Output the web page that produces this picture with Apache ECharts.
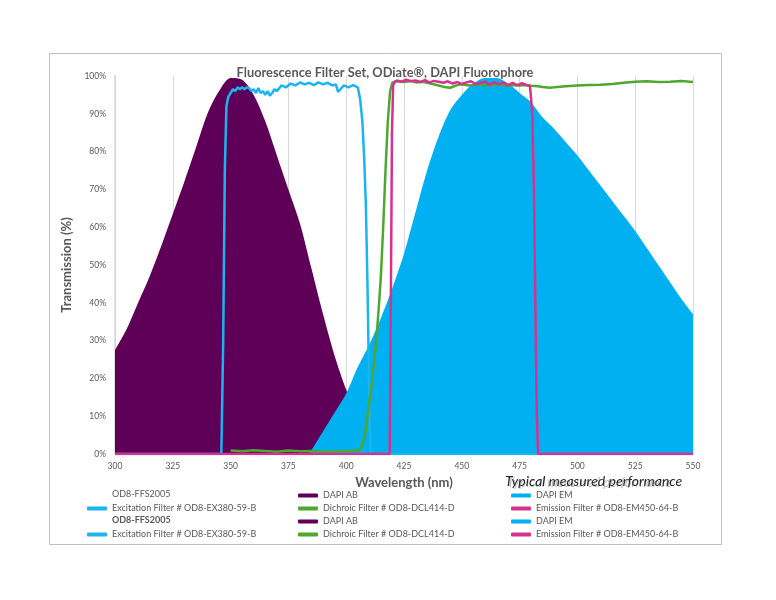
<!DOCTYPE html>
<html>
<head>
<meta charset="utf-8">
<title>DAPI filter set</title>
<script src="https://cdn.jsdelivr.net/npm/echarts@6/dist/echarts.min.js"></script>
<style>
body { margin: 0; background: #fff; }
#myChart { width: 776px; height: 600px; }
</style>
</head>
<body>
<div id="myChart"></div>
<script>
// DAPI AB (absorption)
var wlAb = [300, 305, 310, 315, 320, 325, 330, 335, 340, 345, 350, 355, 360, 365, 370, 375, 380, 385, 390, 395, 400, 405, 410, 415, 420]
var tAb = [27.5, 33, 40, 47, 55, 63.5, 72, 81, 90, 96, 99.5, 99, 95, 88, 79, 70, 61, 49, 37, 26, 17, 10, 5, 1.5, 0]

// DAPI EM (emission)
var wlEm = [384, 390, 395, 400, 405, 410, 415, 420, 425, 430, 435, 440, 445, 450, 455, 460, 465, 470, 475, 480, 485, 490, 495, 500, 505, 510, 515, 520, 525, 530, 535, 540, 545, 550]
var tEm = [0, 6, 11, 16, 23, 29, 36, 44, 53, 64, 75, 84, 91, 95, 98, 99.5, 99.5, 98, 95.5, 93, 89, 86, 82.5, 79, 75, 71, 67, 63, 59, 54.5, 50, 45.5, 41, 37]

// Excitation Filter # OD8-EX380-59-B
var wlEx = [300, 346, 346.8, 347.5, 348.2, 349, 350, 351, 352, 353, 354, 355, 356, 357, 358, 359, 360, 361, 362, 363, 364, 365, 366, 367, 368, 369, 370, 372, 374, 376, 378, 380, 382, 384, 386, 388, 390, 392, 394, 395.5, 396.5, 397.5, 399, 401, 403, 405, 406, 407, 407.8, 408.5, 409.2, 409.8, 410.2, 410.6, 550]
var tEx = [0, 0, 30, 75, 92, 94.5, 95.5, 96.5, 96, 97, 96.5, 97, 96.5, 97, 96.8, 96, 96.5, 95.5, 96.8, 95.5, 96, 95, 96, 94.8, 95.5, 96.5, 96, 97.5, 97, 98, 97.5, 98.3, 97.8, 98.2, 97.6, 98.3, 97.8, 98.2, 97.5, 97.8, 95.8, 96.5, 97.5, 97, 97.6, 97, 94, 88, 78, 66, 45, 22, 8, 0, 0]

// Dichroic Filter # OD8-DCL414-D
var wlDc = [350, 355, 360, 365, 370, 375, 380, 385, 390, 395, 400, 405, 406, 407, 408, 409, 410, 411, 412, 413, 414, 415, 416, 417, 418, 419, 420, 422, 425, 428, 430, 433, 436, 440, 443, 445, 448, 450, 453, 455, 458, 460, 463, 465, 468, 470, 473, 475, 478, 480, 483, 485, 488, 490, 495, 500, 505, 510, 515, 520, 525, 530, 535, 540, 545, 550]
var tDc = [0.9, 0.7, 1.0, 0.8, 0.6, 0.9, 0.7, 0.8, 0.6, 0.7, 0.8, 0.9, 1.2, 2.5, 5, 9, 14, 18, 24, 30, 38, 47, 60, 75, 88, 96, 98.3, 98.6, 98.4, 98.7, 98.3, 98.5, 98.1, 97.5, 97, 96.9, 97.6, 97.8, 97.5, 97.6, 97.8, 97.5, 97.6, 97.8, 97.6, 97.4, 97.6, 97.5, 97.6, 97.4, 97.3, 97.1, 96.9, 97, 97.3, 97.5, 97.6, 97.7, 97.9, 98.2, 98.5, 98.6, 98.4, 98.5, 98.7, 98.4]

// Emission Filter # OD8-EM450-64-B
var wlEmf = [300, 418.8, 419.3, 419.8, 420.3, 421, 422, 424, 426, 428, 430, 432, 434, 436, 438, 440, 442, 444, 446, 448, 450, 452, 454, 456, 458, 460, 462, 464, 466, 468, 470, 472, 474, 476, 478, 479.5, 480.5, 481.2, 481.8, 482.4, 483, 550]
var tEmf = [0, 0, 40, 85, 97.5, 98.5, 98.8, 98.5, 99, 98.6, 98.8, 98.4, 98.9, 98.3, 98.7, 98.5, 98.2, 98.6, 98.0, 98.4, 97.9, 98.3, 98.6, 97.8, 98.2, 98.5, 97.7, 98.4, 97.8, 98.3, 97.6, 98.2, 97.5, 98.1, 97.6, 97.3, 90, 70, 40, 12, 0, 0]

var xTicks = [300, 325, 350, 375, 400, 425, 450, 475, 500, 525, 550]

function pairs(xs, ys) {
    return xs.map(function (x, i) { return [x, ys[i]] })
}

var txtColor = '#595959'
var legendFont = { color: txtColor, fontSize: 9, fontFamily: 'Lato' }

// one legend box per entry, placed like the Excel legend grid
function legendAt(name, x, y) {
    return {
        data: [name], left: x, top: y - 6, icon: 'roundRect',
        itemWidth: 20, itemHeight: 4, itemGap: 2, padding: 0,
        selectedMode: false, textStyle: legendFont
    }
}
var colX = [87, 298, 511]
var rowY = [497, 510, 523, 536]

var myChart = echarts.init(document.getElementById('myChart'))
myChart.setOption({
    animation: false,
    backgroundColor: '#fff',
    title: {
        text: 'Fluorescence Filter Set, ODiate®, DAPI Fluorophore',
        left: 380, top: 61, textAlign: 'center',
        textStyle: { color: txtColor, fontSize: 12.8, fontWeight: 'bold', fontFamily: 'Lato' }
    },
    grid: { left: 115, right: 83, top: 76, bottom: 146 },
    xAxis: {
        type: 'value', min: 300, max: 550, interval: 25,
        name: 'Wavelength (nm)', nameLocation: 'middle', nameGap: 21,
        nameTextStyle: { color: txtColor, fontSize: 13, fontWeight: 'bold', fontFamily: 'Lato' },
        axisLine: { show: false },
        axisTick: { show: false },
        axisLabel: { color: txtColor, fontSize: 8.5, fontFamily: 'Lato', margin: 8,
            customValues: xTicks },
        splitLine: { show: true, lineStyle: { color: '#d9d9d9', width: 1 } }
    },
    yAxis: {
        type: 'value', min: 0, max: 100, interval: 10,
        name: 'Transmission (%)', nameLocation: 'middle', nameGap: 40,
        nameTextStyle: { color: txtColor, fontSize: 13, fontWeight: 'bold', fontFamily: 'Lato' },
        axisLine: { show: false },
        axisTick: { show: false },
        axisLabel: { color: txtColor, fontSize: 8.5, fontFamily: 'Lato', margin: 9, formatter: '{value}%' },
        splitLine: { show: false }
    },
    legend: [
        legendAt('DAPI AB', colX[1], rowY[0]),
        legendAt('DAPI EM', colX[2], rowY[0]),
        legendAt('Excitation Filter # OD8-EX380-59-B', colX[0], rowY[1]),
        legendAt('Dichroic Filter # OD8-DCL414-D', colX[1], rowY[1]),
        legendAt('Emission Filter # OD8-EM450-64-B', colX[2], rowY[1]),
        legendAt('DAPI AB', colX[1], rowY[2]),
        legendAt('DAPI EM', colX[2], rowY[2]),
        legendAt('Excitation Filter # OD8-EX380-59-B', colX[0], rowY[3]),
        legendAt('Dichroic Filter # OD8-DCL414-D', colX[1], rowY[3]),
        legendAt('Emission Filter # OD8-EM450-64-B', colX[2], rowY[3])
    ],
    series: [
        {
            name: 'DAPI AB', type: 'line', data: pairs(wlAb, tAb), symbol: 'none', smooth: 0.3,
            color: '#5f0058', lineStyle: { width: 0 }, areaStyle: { color: '#5f0058', opacity: 1 }, z: 1
        },
        {
            name: 'DAPI EM', type: 'line', data: pairs(wlEm, tEm), symbol: 'none', smooth: 0.3,
            color: '#00b0f0', lineStyle: { width: 0 }, areaStyle: { color: '#00b0f0', opacity: 1 }, z: 2
        },
        {
            name: 'Excitation Filter # OD8-EX380-59-B', type: 'line', data: pairs(wlEx, tEx), symbol: 'none',
            color: '#1bb4ef', lineStyle: { width: 2.5 }, z: 3
        },
        {
            name: 'Dichroic Filter # OD8-DCL414-D', type: 'line', data: pairs(wlDc, tDc), symbol: 'none',
            color: '#4ea72e', lineStyle: { width: 2.5 }, z: 4
        },
        {
            name: 'Emission Filter # OD8-EM450-64-B', type: 'line', data: pairs(wlEmf, tEmf), symbol: 'none',
            color: '#d8308f', lineStyle: { width: 2.5 }, z: 5
        }
    ],
    graphic: [
        // outer chart border
        { type: 'rect', shape: { x: 49.5, y: 53.5, width: 672, height: 491 }, silent: true, z: -10,
          style: { fill: 'none', stroke: '#bfbfbf', lineWidth: 1 } },
        // y axis line
        { type: 'line', shape: { x1: 115, y1: 75, x2: 115, y2: 454 }, z: 0, style: { stroke: '#bfbfbf', lineWidth: 1 } },
        // legend entries with no marker
        { type: 'text', x: 112, y: rowY[0] - 3, z: 20,
          style: { text: 'OD8-FFS2005', fill: txtColor, font: '9px Lato', verticalAlign: 'middle' } },
        { type: 'text', x: 112, y: rowY[2] - 3, z: 20,
          style: { text: 'OD8-FFS2005', fill: txtColor, font: 'bold 9px Lato', verticalAlign: 'middle' } },
        // note
        { type: 'text', x: 507, y: 483, z: 20,
          style: { text: 'Typical measured performance', fill: '#777', font: 'italic 13px Lato', opacity: 0.5, verticalAlign: 'middle' } },
        { type: 'text', x: 505, y: 481, z: 21,
          style: { text: 'Typical measured performance', fill: '#262626', font: 'italic 14px Lato', verticalAlign: 'middle' } },
        // logo box
        { type: 'group', z: 30, children: [
            { type: 'rect', shape: { x: 550, y: 423, width: 144, height: 29 }, style: { fill: '#fff' } },
            { type: 'circle', shape: { cx: 559, cy: 441, r: 3.5 }, style: { fill: '#c3cadc' } },
            { type: 'circle', shape: { cx: 567, cy: 441, r: 3.5 }, style: { fill: '#a9b6d0' } },
            { type: 'circle', shape: { cx: 575, cy: 441, r: 3.5 }, style: { fill: '#2f5597' } },
            { type: 'circle', shape: { cx: 575, cy: 432, r: 2.3 }, style: { fill: '#2f5597' } },
            { type: 'text', x: 580, y: 440, style: { text: 'mks', fill: '#2f5597', font: 'bold 21px "Open Sans"', verticalAlign: 'middle' } },
            { type: 'text', x: 632, y: 441, style: { text: '|', fill: '#2f5597', font: '11px "Open Sans"', verticalAlign: 'middle' } },
            { type: 'text', x: 640, y: 441, style: { text: 'Newport', fill: '#2f5597', font: 'bold 10px "Open Sans"', verticalAlign: 'middle' } },
            { type: 'text', x: 686, y: 436, style: { text: '™', fill: '#2f5597', font: '5px "Open Sans"', verticalAlign: 'middle' } }
        ] }
    ]
})
</script>
</body>
</html>
